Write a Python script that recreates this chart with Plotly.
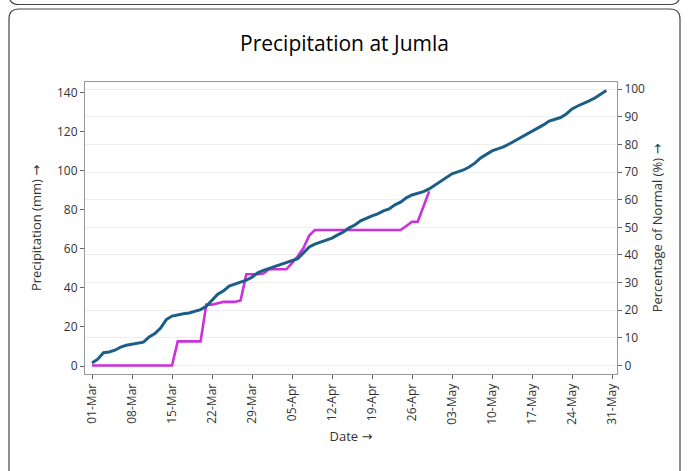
import pandas as pd
import plotly.graph_objects as go

dates = pd.date_range("2023-03-01", "2023-05-31", freq="D")

precip_mm = [
    1.5, 3.5, 6.8, 7.2, 8.1, 9.7, 10.6, 11.2, 11.7, 12.2,
    14.9, 16.6, 19.5, 23.8, 25.6, 26.3, 26.8, 27.2, 28.1, 28.9,
    30.6, 33.5, 36.8, 38.5, 41.0, 42.0, 43.0, 44.0, 45.5, 47.8,
    49.0, 50.0, 51.0, 52.0, 53.0, 53.8, 55.0, 58.0, 61.0, 62.5,
    63.5, 64.6, 65.6, 67.2, 68.7, 70.8, 72.3, 74.4, 75.9, 77.0,
    78.0, 79.5, 80.5, 82.6, 84.0, 86.2, 87.7, 88.4, 89.4, 90.8,
    92.8, 94.9, 96.9, 98.5, 99.5, 100.5, 102.0, 104.0, 106.7, 108.7,
    110.3, 111.3, 112.3, 113.8, 115.4, 117.4, 119.0, 120.5, 122.0, 123.6,
    125.6, 126.7, 127.4, 129.2, 131.8, 133.3, 134.4, 135.9, 137.4, 139.5,
    141.2,
]

pct_normal = [
    0, 0, 0, 0, 0, 0, 0, 0, 0, 0,
    0, 0, 0, 0, 0, 8.7, 8.7, 8.7, 8.7, 8.7,
    22.0, 22.0, 22.5, 23.0, 23.0, 23.0, 23.5, 33.0, 33.0, 33.0,
    33.3, 34.8, 34.8, 34.8, 34.8, 37.0, 39.5, 42.5, 47.0, 49.0,
    49.0, 49.0, 49.0, 49.0, 49.0, 49.0, 49.0, 49.0, 49.0, 49.0,
    49.0, 49.0, 49.0, 49.0, 49.0, 50.5, 52.0, 52.0, 57.5, 63.0,
]
pct_dates = dates[:len(pct_normal)]

tick_vals = pd.date_range("2023-03-01", "2023-05-31", freq="7D")
tick_text = [d.strftime("%d-%b") for d in tick_vals]

fig = go.Figure()
fig.add_trace(go.Scatter(
    x=pct_dates, y=pct_normal, mode="lines", name="Percentage of Normal",
    line=dict(color="#cc2fdc", width=2.6), yaxis="y",
))
fig.add_trace(go.Scatter(
    x=dates, y=precip_mm, mode="lines", name="Precipitation",
    line=dict(color="#1b5e86", width=3), yaxis="y2",
))

axis_font = dict(family="Open Sans", size=12, color="#333")
title_font = dict(family="Open Sans, DejaVu Sans", size=13, color="#333")

# card borders (decoration) in paper coordinates
L, R, T, B = 85, 617, 82, 374
W, H = R - L, B - T
def px(x):
    return (x - L) / W
def py(y):
    return (B - y) / H

r = 10
x0, x1, y0 = 9, 680, 9
card = (f"M {px(x0)},{py(480)} L {px(x0)},{py(y0 + r)} Q {px(x0)},{py(y0)} {px(x0 + r)},{py(y0)} "
        f"L {px(x1 - r)},{py(y0)} Q {px(x1)},{py(y0)} {px(x1)},{py(y0 + r)} L {px(x1)},{py(480)}")
yp = 4.5
prev = (f"M {px(x0)},{py(-20)} L {px(x0)},{py(yp - r)} Q {px(x0)},{py(yp)} {px(x0 + r)},{py(yp)} "
        f"L {px(x1 - r)},{py(yp)} Q {px(x1)},{py(yp)} {px(x1)},{py(yp - r)} L {px(x1)},{py(-20)}")

fig.update_layout(
    width=689, height=471,
    margin=dict(l=L, r=689 - R, t=T, b=471 - B),
    paper_bgcolor="white", plot_bgcolor="white",
    showlegend=False,
    title=dict(text="Precipitation at Jumla", x=0.5, xanchor="center", y=0.908, yanchor="middle",
               font=dict(family="Open Sans", size=21, color="#000", weight=500)),
    font=dict(family="Open Sans"),
    xaxis=dict(
        range=["2023-02-27 18:30", "2023-05-31 21:00"],
        tickmode="array", tickvals=tick_vals, ticktext=tick_text, tickangle=-90,
        ticks="outside", ticklen=4, tickcolor="#666",
        showline=True, linecolor="#999", linewidth=1, mirror=True,
        showgrid=False, tickfont=axis_font,
        title=dict(text="Date →", font=title_font, standoff=8),
    ),
    yaxis=dict(
        side="right", range=[-3.1, 102.6], tickvals=list(range(0, 101, 10)),
        ticks="outside", ticklen=4, tickcolor="#666",
        showline=True, linecolor="#999", linewidth=1,
        showgrid=True, gridcolor="#eeeeee", gridwidth=1, zeroline=False,
        tickfont=axis_font,
        title=dict(text="Percentage of Normal (%) →", font=title_font, standoff=8),
    ),
    yaxis2=dict(
        side="left", overlaying="y", range=[-4.1, 145.6], tickvals=list(range(0, 141, 20)),
        ticks="outside", ticklen=4, tickcolor="#666",
        showline=True, linecolor="#999", linewidth=1,
        showgrid=False, zeroline=False, tickfont=axis_font,
        title=dict(text="Precipitation (mm) →", font=title_font, standoff=12),
    ),
    shapes=[
        dict(type="path", xref="paper", yref="paper", path=card,
             line=dict(color="#444", width=1.2), layer="below"),
        dict(type="path", xref="paper", yref="paper", path=prev,
             line=dict(color="#444", width=1.2), layer="below"),
    ],
)

fig.write_html("out.html", config={"displayModeBar": False},
               post_script="document.body.style.margin='0px';")
